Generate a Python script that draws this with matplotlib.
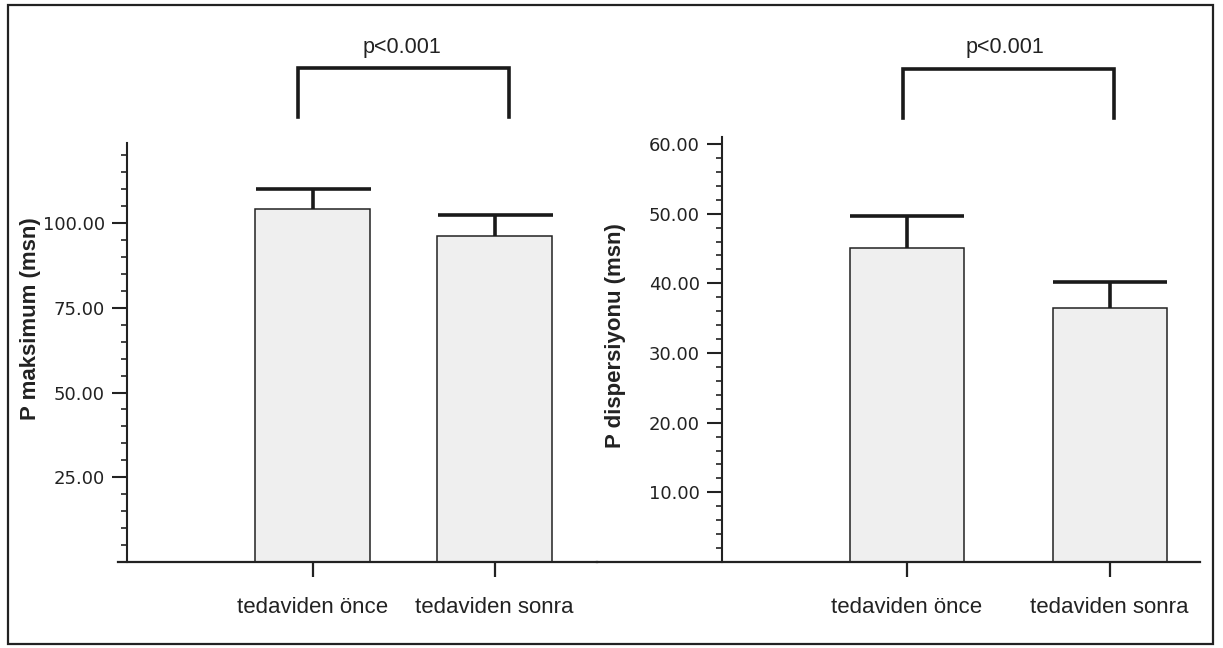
import matplotlib
matplotlib.use("Agg")
import matplotlib.pyplot as plt
from matplotlib.lines import Line2D
from matplotlib.patches import Rectangle
from matplotlib.ticker import MultipleLocator, FormatStrFormatter

# ---- data ----
categories = ["tedaviden önce", "tedaviden sonra"]
pmax_means = [104.2, 96.3]
pmax_err = [5.9, 6.1]
pdisp_means = [45.0, 36.5]
pdisp_err = [4.6, 3.7]
ylabel_left = "P maksimum (msn)"
ylabel_right = "P dispersiyonu (msn)"
p_text = "p<0.001"

W, H = 1223, 648
fig = plt.figure(figsize=(W / 100, H / 100), dpi=100)
fig.patch.set_facecolor("white")

def fx(px):
    return px / W

def fy(py):
    return 1 - py / H

# outer frame
fig.add_artist(Rectangle((fx(8), fy(644)), fx(1213) - fx(8), fy(5) - fy(644),
                         transform=fig.transFigure, fill=False, lw=1.6, ec="#222222"))

tick_font = dict(family="DejaVu Sans", size=13)
cat_font = dict(family="Liberation Sans", size=16)
lab_font = dict(family="Liberation Sans", size=16, weight="bold")


def panel(x0, x1, y0, y1, ymax, spine_px, c0_px, c1_px, bar_px, means, errs,
          major, minor, ylabel, ylab_x, ylab_y):
    ax = fig.add_axes([fx(x0), fy(y1), fx(x1) - fx(x0), fy(y0) - fy(y1)])
    pos = list(range(len(means)))
    unit = c1_px - c0_px
    xlo = -(c0_px - x0) / unit
    xhi = (x1 - c0_px) / unit
    width = bar_px / unit
    ax.bar(pos, means, width=width, color="#efefef", edgecolor="#222222",
           linewidth=1.1, zorder=2)
    capsize = bar_px / 2 * 72 / 100
    eb = ax.errorbar(pos, means, yerr=[[0] * len(errs), errs], fmt="none",
                     ecolor="#1a1a1a", elinewidth=2.6, capsize=capsize, capthick=2.6,
                     zorder=3)
    caps = eb[1]
    if len(caps) == 2:
        caps[0].set_visible(False)
    ax.set_xlim(xlo, xhi)
    ax.set_ylim(0, ymax)
    for s in ["top", "right"]:
        ax.spines[s].set_visible(False)
    ax.spines["left"].set_position(("data", -(c0_px - spine_px) / unit))
    ax.spines["left"].set_bounds(0, ymax)
    ax.spines["left"].set_linewidth(1.5)
    ax.spines["bottom"].set_linewidth(1.6)
    ax.spines["left"].set_color("#222222")
    ax.spines["bottom"].set_color("#222222")
    ax.yaxis.set_major_locator(MultipleLocator(major))
    ax.yaxis.set_minor_locator(MultipleLocator(minor))
    ax.yaxis.set_major_formatter(FormatStrFormatter("%.2f"))
    ticks = [t for t in ax.get_yticks() if 0 < t <= ymax]
    ax.set_yticks(ticks)
    ax.tick_params(axis="y", which="major", length=11, width=1.5, pad=5,
                   color="#222222", labelcolor="#222222")
    ax.tick_params(axis="y", which="minor", length=4.5, width=1.2, color="#222222")
    ax.set_xticks(pos)
    ax.set_xticklabels(categories)
    ax.tick_params(axis="x", length=11, width=1.6, pad=14, color="#222222",
                   labelcolor="#222222")
    for lbl in ax.get_yticklabels():
        lbl.set_fontfamily(tick_font["family"])
        lbl.set_fontsize(tick_font["size"])
    for lbl in ax.get_xticklabels():
        lbl.set_fontfamily(cat_font["family"])
        lbl.set_fontsize(cat_font["size"])
    ax.patch.set_alpha(0)
    fig.text(fx(ylab_x), fy(ylab_y), ylabel, rotation=90, ha="center", va="center",
             color="#222222", **lab_font)
    return ax


ax1 = panel(118, 597, 143, 562, 123.6, 127, 312.5, 494.5, 115, pmax_means, pmax_err,
            25, 5, ylabel_left, 31, 319)
ax2 = panel(597, 1200, 137, 562, 61.0, 722, 907, 1109.5, 114, pdisp_means, pdisp_err,
            10, 2, ylabel_right, 616, 336)


def bracket(xl, xr, ytop, ybot, tx, ty):
    fig.add_artist(Line2D([fx(xl), fx(xl), fx(xr), fx(xr)],
                          [fy(ybot), fy(ytop), fy(ytop), fy(ybot)],
                          transform=fig.transFigure, color="#1a1a1a", lw=2.6,
                          solid_joinstyle="miter"))
    fig.text(fx(tx), fy(ty), p_text, ha="center", va="center", color="#222222",
             family="Liberation Sans", size=15.5)


bracket(298, 509, 68, 117, 402, 47)
bracket(903, 1114, 69, 118, 1005, 47)

fig.savefig("out.png", dpi=100)
